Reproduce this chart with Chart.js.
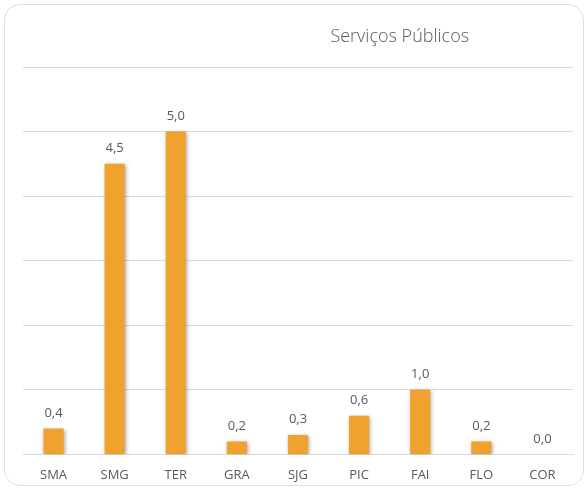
<!DOCTYPE html>
<html>
<head>
<meta charset="utf-8">
<script src="https://cdn.jsdelivr.net/npm/chart.js@4.4.0/dist/chart.umd.min.js"></script>
<style>
  html, body { margin: 0; padding: 0; background: #ffffff; }
  #frame {
    position: absolute; left: 4px; top: 4px; width: 580px; height: 482px;
    border: 1px solid #e6dfc8; border-radius: 16px; box-sizing: border-box;
  }
  #wrap { position: absolute; left: 0; top: 0; width: 588px; height: 490px; }
</style>
</head>
<body>
<div id="frame"></div>
<div id="wrap"><canvas id="c" width="588" height="490"></canvas></div>
<script>
const categories = ["SMA", "SMG", "TER", "GRA", "SJG", "PIC", "FAI", "FLO", "COR"];
const values = [0.4, 4.5, 5.0, 0.2, 0.3, 0.6, 1.0, 0.2, 0.0];
const chartTitle = "Serviços Públicos";
const yMin = 0, yMax = 6, yStep = 1;

const FONT = "'Open Sans', 'Noto Sans', sans-serif";
const GREY = "#595959";

const shadowPlugin = {
  id: 'barShadow',
  beforeDatasetsDraw(chart) {
    const ctx = chart.ctx;
    ctx.save();
    ctx.shadowColor = 'rgba(0,0,0,0.35)';
    ctx.shadowBlur = 4;
    ctx.shadowOffsetX = 1;
    ctx.shadowOffsetY = 1;
  },
  afterDatasetsDraw(chart) {
    chart.ctx.restore();
  }
};

const labelPlugin = {
  id: 'valueLabels',
  afterDraw(chart) {
    const ctx = chart.ctx;
    ctx.save();
    ctx.font = "13px " + FONT;
    ctx.fillStyle = GREY;
    ctx.textAlign = 'center';
    ctx.textBaseline = 'bottom';
    const meta = chart.getDatasetMeta(0);
    meta.data.forEach((bar, i) => {
      const txt = values[i].toFixed(1).replace('.', ',');
      ctx.fillText(txt, bar.x, bar.y - 9);
    });
    // title
    const a = chart.chartArea;
    ctx.font = "300 18px " + FONT;
    ctx.textBaseline = 'middle';
    ctx.fillText(chartTitle, a.left + a.width * 0.685, 37);
    ctx.restore();
  }
};

new Chart(document.getElementById('c'), {
  type: 'bar',
  data: {
    labels: categories,
    datasets: [{
      data: values,
      backgroundColor: '#F0A22E',
      borderWidth: 0,
      barPercentage: 0.33,
      categoryPercentage: 1.0
    }]
  },
  options: {
    responsive: false,
    animation: false,
    layout: { padding: { left: 23, right: 15, top: 67, bottom: -6 } },
    plugins: {
      legend: { display: false },
      tooltip: { enabled: false },
      title: { display: false }
    },
    scales: {
      x: {
        grid: { display: false, drawTicks: false },
        border: { display: true, color: '#d9d9d9', width: 1 },
        ticks: { color: GREY, font: { family: FONT, size: 13 }, padding: 13 }
      },
      y: {
        min: yMin, max: yMax,
        ticks: { display: false, stepSize: yStep },
        grid: { color: '#d9d9d9', drawTicks: false, lineWidth: 1 },
        border: { display: false }
      }
    }
  },
  plugins: [shadowPlugin, labelPlugin]
});
</script>
</body>
</html>
